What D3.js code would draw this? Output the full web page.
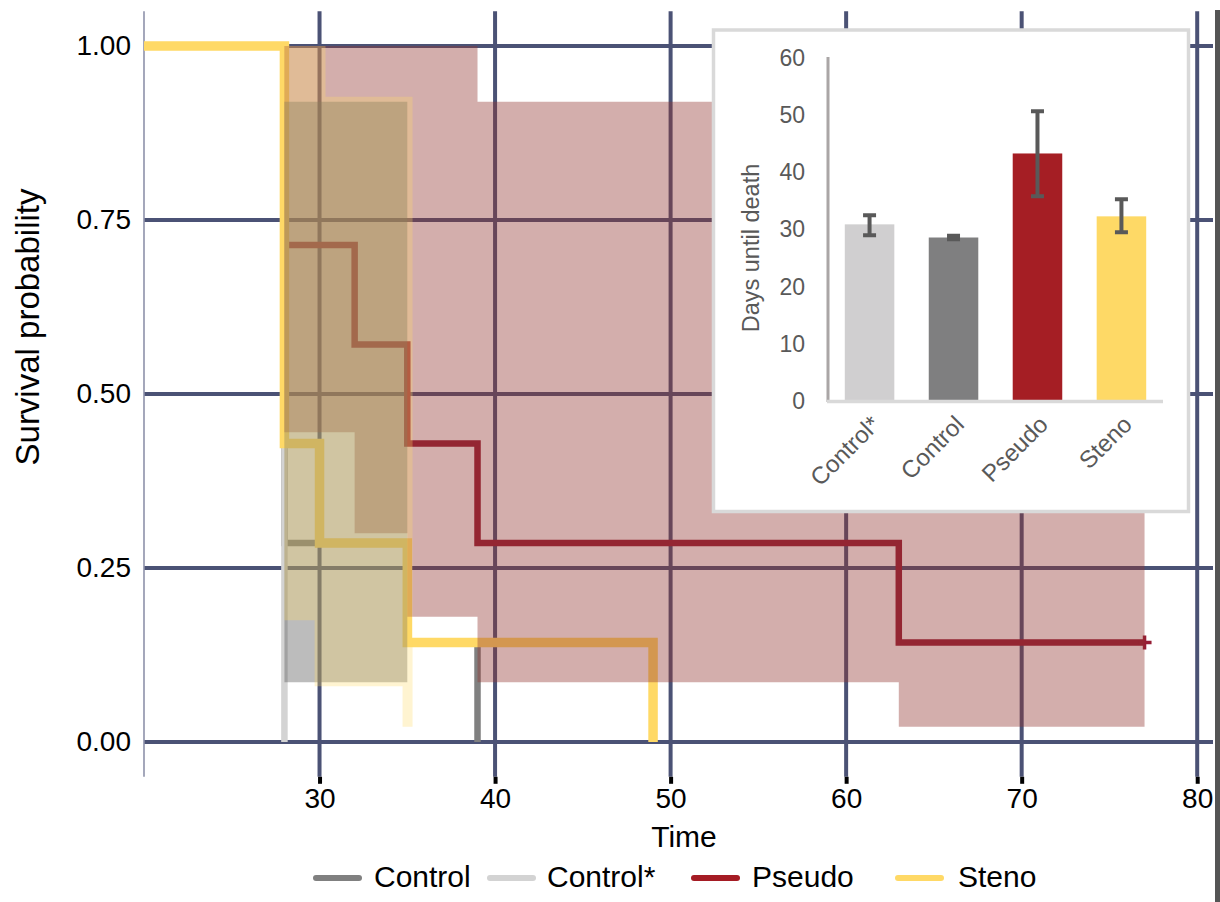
<!DOCTYPE html>
<html>
<head>
<meta charset="utf-8">
<script src="https://cdn.jsdelivr.net/npm/d3@7"></script>
<style>
  html, body { margin: 0; padding: 0; background: #ffffff; }
  svg { display: block; font-family: "Liberation Sans", Arial, Helvetica, sans-serif; }
</style>
</head>
<body>
<svg id="chart" width="1220" height="902"></svg>
<script>
// ---------------- data ----------------
const groups = ["Control", "Control*", "Pseudo", "Steno"];
const groupColors = ["#808080", "#d3d3d3", "#a51c24", "#ffd966"];
const curveColors = ["#808080", "#d3d3d3", "#961d34", "#ffd966"];

// Kaplan-Meier step curves (time, survival)
const controlTimes = [20, 28, 35, 39];
const controlSurv = [1, 0.286, 0.143, 0];
const controlStarTimes = [20, 28];
const controlStarSurv = [1, 0];
const pseudoTimes = [20, 28, 32, 35, 39, 63, 77];
const pseudoSurv = [1, 0.714, 0.571, 0.429, 0.286, 0.143, 0.143];
const stenoTimes = [20, 28, 30, 35, 49];
const stenoSurv = [1, 0.429, 0.286, 0.143, 0];
const pseudoCensorTimes = [77];
const pseudoCensorSurv = [0.143];

// Confidence ribbons (step starts, lower, upper)
const pseudoRibTimes = [28, 32, 35, 39, 63, 77];
const pseudoRibLower = [0.445, 0.30, 0.18, 0.086, 0.022, 0.022];
const pseudoRibUpper = [1, 1, 1, 0.92, 0.92, 0.92];
const controlRibTimes = [28, 35];
const controlRibLower = [0.086, 0.086];
const controlRibUpper = [0.92, 0.92];
const stenoRibTimes = [28, 29.72, 30.34, 34.73, 35.3];
const stenoRibLower = [0.175, 0.08, 0.08, 0.022, 0.022];
const stenoRibUpper = [1, 1, 0.927, 0.927, 0.927];

const xTicks = [30, 40, 50, 60, 70, 80];
const yTicks = [0, 0.25, 0.5, 0.75, 1];

// Inset bar chart
const barCategories = ["Control*", "Control", "Pseudo", "Steno"];
const barMeans = [30.9, 28.6, 43.3, 32.3];
const barLow = [29.0, 28.3, 35.8, 29.5];
const barHigh = [32.5, 28.9, 50.7, 35.3];
const barColors = ["#d0cfd0", "#7f7f80", "#a51e24", "#fed966"];
const barTicks = [0, 10, 20, 30, 40, 50, 60];

// ---------------- chart ----------------
const svg = d3.select("#chart");
const font = '"Liberation Sans", Arial, Helvetica, sans-serif';

const x = d3.scaleLinear().domain([20, 80.9]).range([144, 1213]);
const y = d3.scaleLinear().domain([-0.05, 1.05]).range([776.8, 11.2]);

const gridColor = "#4b5275";

// grid lines
const grid = svg.append("g");
grid.selectAll("line.h").data(yTicks).join("line")
  .attr("x1", 144).attr("x2", 1213)
  .attr("y1", d => y(d)).attr("y2", d => y(d))
  .attr("stroke", gridColor).attr("stroke-width", 4);
grid.selectAll("line.v").data(xTicks).join("line")
  .attr("x1", d => x(d)).attr("x2", d => x(d))
  .attr("y1", y(1.05)).attr("y2", y(-0.05))
  .attr("stroke", gridColor).attr("stroke-width", 4);

// left axis line
svg.append("line").attr("x1", 144).attr("x2", 144)
  .attr("y1", y(1.05)).attr("y2", y(-0.05))
  .attr("stroke", "#8e92aa").attr("stroke-width", 1.6);

// x axis ticks & labels
const xAxis = svg.append("g").attr("transform", `translate(0,${y(-0.05)})`)
  .call(d3.axisBottom(x).tickValues(xTicks).tickSize(7).tickPadding(4).tickFormat(d3.format("d")));
xAxis.select(".domain").remove();
xAxis.selectAll(".tick line").attr("stroke", "#000").attr("stroke-width", 4);
xAxis.selectAll(".tick text").attr("font-size", 28).attr("font-family", font).attr("fill", "#000");

// y axis labels
const yAxis = svg.append("g").attr("transform", `translate(144,0)`)
  .call(d3.axisLeft(y).tickValues(yTicks).tickSize(0).tickPadding(13).tickFormat(d3.format(".2f")));
yAxis.select(".domain").remove();
yAxis.selectAll(".tick text").attr("font-size", 28).attr("font-family", font).attr("fill", "#000");

// axis titles
svg.append("text").attr("x", 684).attr("y", 847).attr("text-anchor", "middle")
  .attr("font-size", 30).attr("fill", "#000").text("Time");
svg.append("text").attr("transform", "translate(39,327) rotate(-90)").attr("text-anchor", "middle")
  .attr("font-size", 33).attr("fill", "#000").text("Survival probability");

// survival lines
const line = d3.line().x(d => x(d[0])).y(d => y(d[1])).curve(d3.curveStepAfter);
function zip(a, b) { return a.map((v, i) => [v, b[i]]); }
const curves = [
  { t: controlTimes, s: controlSurv, c: curveColors[0], w: 6.5 },
  { t: pseudoTimes, s: pseudoSurv, c: curveColors[2], w: 6.5 },
  { t: controlStarTimes, s: controlStarSurv, c: curveColors[1], w: 6.5 },
  { t: stenoTimes, s: stenoSurv, c: curveColors[3], w: 9.5 }
];
curves.forEach(cv => {
  svg.append("path").attr("d", line(zip(cv.t, cv.s)))
    .attr("fill", "none").attr("stroke", cv.c).attr("stroke-width", cv.w)
    .attr("stroke-linejoin", "miter");
});
// censor mark
pseudoCensorTimes.forEach((t, i) => {
  const cx = x(t), cy = y(pseudoCensorSurv[i]);
  svg.append("path").attr("d", `M${cx},${cy - 7}L${cx},${cy + 7}M${cx - 6},${cy}L${cx + 7},${cy}`)
    .attr("stroke", curveColors[2]).attr("stroke-width", 3.5);
});

// confidence ribbons
const area = d3.area().x(d => x(d[0])).y0(d => y(d[1])).y1(d => y(d[2])).curve(d3.curveStepAfter);
function zip3(a, b, c) { return a.map((v, i) => [v, b[i], c[i]]); }
svg.append("path").attr("d", area(zip3(pseudoRibTimes, pseudoRibLower, pseudoRibUpper)))
  .attr("fill", "#91342f").attr("fill-opacity", 0.4);
svg.append("path").attr("d", area(zip3(controlRibTimes, controlRibLower, controlRibUpper)))
  .attr("fill", "#575757").attr("fill-opacity", 0.4);
svg.append("path").attr("d", area(zip3(stenoRibTimes, stenoRibLower, stenoRibUpper)))
  .attr("fill", "#ffd966").attr("fill-opacity", 0.3);

// legend
const legendKeyX = [316, 490, 694, 898];
const legendTextX = [374, 547, 752, 958];
const legend = svg.append("g");
groups.forEach((g, i) => {
  legend.append("line").attr("x1", legendKeyX[i]).attr("x2", legendKeyX[i] + 43)
    .attr("y1", 878).attr("y2", 878)
    .attr("stroke", groupColors[i]).attr("stroke-width", 6).attr("stroke-linecap", "round");
  legend.append("text").attr("x", legendTextX[i]).attr("y", 887)
    .attr("font-size", 30).attr("fill", "#000").text(g);
});

// right edge bar
svg.append("rect").attr("x", 1215).attr("y", 10).attr("width", 5).attr("height", 892).attr("fill", "#555555");

// ---------------- inset ----------------
const inset = svg.append("g");
inset.append("rect").attr("x", 713.5).attr("y", 30).attr("width", 475).attr("height", 481.5)
  .attr("fill", "#fff").attr("stroke", "#d9d9d9").attr("stroke-width", 3.5);

const bx = d3.scaleBand().domain(barCategories).range([828, 1163]).paddingInner(0.41).paddingOuter(0.2);
const by = d3.scaleLinear().domain([0, 60]).range([401, 58]);

inset.selectAll("rect.bar").data(barCategories).join("rect")
  .attr("class", "bar")
  .attr("x", d => bx(d)).attr("width", bx.bandwidth())
  .attr("y", (d, i) => by(barMeans[i])).attr("height", (d, i) => by(0) - by(barMeans[i]))
  .attr("fill", (d, i) => barColors[i]);

// error bars
barCategories.forEach((c, i) => {
  const cx = bx(c) + bx.bandwidth() / 2;
  const y1 = by(barHigh[i]), y0 = by(barLow[i]);
  inset.append("path")
    .attr("d", `M${cx - 6.5},${y1}L${cx + 6.5},${y1}M${cx},${y1}L${cx},${y0}M${cx - 6.5},${y0}L${cx + 6.5},${y0}`)
    .attr("stroke", "#595959").attr("stroke-width", 4).attr("fill", "none");
});

// inset axes
const iy = inset.append("g").attr("transform", "translate(828,0)")
  .call(d3.axisLeft(by).tickValues(barTicks).tickSize(0).tickPadding(23));
iy.select(".domain").remove();
iy.selectAll(".tick text").attr("font-size", 23).attr("font-family", font).attr("fill", "#595959");
inset.append("line").attr("x1", 828).attr("x2", 828).attr("y1", 57).attr("y2", 402)
  .attr("stroke", "#aaa6a6").attr("stroke-width", 3);
inset.append("line").attr("x1", 827).attr("x2", 1163).attr("y1", 401.5).attr("y2", 401.5)
  .attr("stroke", "#d9d9d9").attr("stroke-width", 3.5);

const ix = inset.append("g").attr("transform", "translate(0,402)")
  .call(d3.axisBottom(bx).tickSize(0).tickPadding(0));
ix.select(".domain").remove();
ix.selectAll(".tick text")
  .attr("font-size", 24).attr("font-family", font).attr("fill", "#595959")
  .attr("text-anchor", "end").attr("dy", "0.35em")
  .attr("transform", "translate(6,18) rotate(-45)").attr("y", 0).attr("x", 0);

inset.append("text").attr("transform", "translate(759,248) rotate(-90)").attr("text-anchor", "middle")
  .attr("font-size", 23.5).attr("fill", "#595959").text("Days until death");
</script>
</body>
</html>
